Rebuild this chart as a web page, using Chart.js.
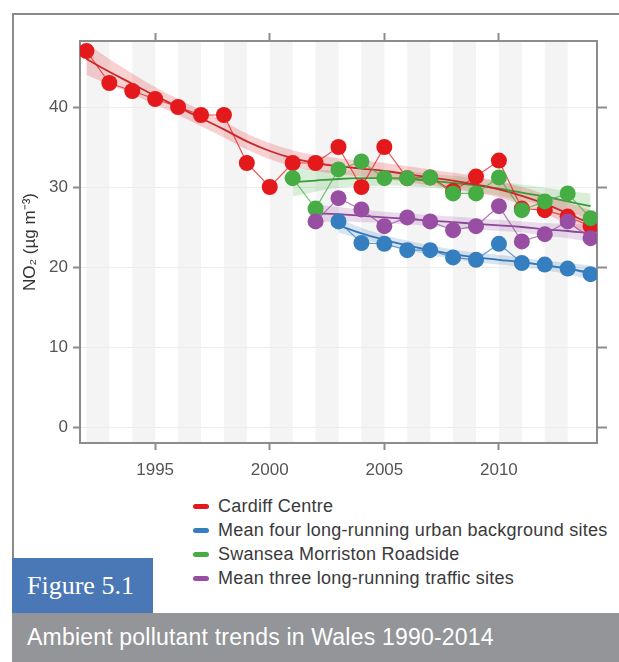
<!DOCTYPE html>
<html>
<head>
<meta charset="utf-8">
<script src="https://cdn.jsdelivr.net/npm/chart.js@4.4.1/dist/chart.umd.min.js"></script>
<style>
  body { margin: 0; background: #fff; font-family: "Liberation Sans", Arial, sans-serif; }
  #page { position: relative; width: 619px; height: 662px; overflow: hidden; }
  #frame { position: absolute; left: 12px; top: 13px; width: 620px; height: 560px;
           border-left: 2px solid #8a8a8a; border-top: 2px solid #8a8a8a; }
  #chartBox { position: absolute; left: 0; top: 0; width: 619px; height: 490px; }
  #legend { position: absolute; left: 193px; top: 494px; font-size: 18px; color: #3a3a3a; letter-spacing: 0.25px; }
  #legend div { height: 24px; line-height: 24px; white-space: nowrap; }
  #legend span { display: inline-block; width: 16px; height: 5px; border-radius: 3px;
                 margin-right: 9px; vertical-align: middle; position: relative; top: -1px; }
  #fig { position: absolute; left: 12px; top: 558px; width: 141px; height: 55px; background: #4a77b5;
         color: #fff; font-family: "Liberation Serif", "DejaVu Serif", serif; font-size: 26px;
         line-height: 55px; padding-left: 15px; box-sizing: border-box; }
  #cap { position: absolute; left: 12px; top: 613px; width: 607px; height: 49px; background: #939598;
         color: #fff; font-size: 23px; line-height: 49px; padding-left: 15px; box-sizing: border-box;
         letter-spacing: 0.2px; }
</style>
</head>
<body>
<div id="page">
  <div id="frame"></div>
  <div id="chartBox"><canvas id="myChart"></canvas></div>
  <div id="legend"></div>
  <div id="fig">Figure 5.1</div>
  <div id="cap">Ambient pollutant trends in Wales 1990-2014</div>
</div>
<script>
var years = [1992, 1993, 1994, 1995, 1996, 1997, 1998, 1999, 2000, 2001, 2002, 2003,
             2004, 2005, 2006, 2007, 2008, 2009, 2010, 2011, 2012, 2013, 2014];
var xTicks = [1995, 2000, 2005, 2010];
var yTicks = [0, 10, 20, 30, 40];

var names = ['Cardiff Centre', 'Mean four long-running urban background sites',
             'Swansea Morriston Roadside', 'Mean three long-running traffic sites'];
var colors = ['#e3191c', '#357ec0', '#46ad44', '#984ea3'];

// measured annual means
var cardiff = [47, 43, 42, 41, 40, 39, 39, 33, 30, 33, 33, 35, 30, 35, 31.1, 31.2, 29.5, 31.3, 33.3, 27.3, 27.1, 26.3, 25.1];
var urban = [null, null, null, null, null, null, null, null, null, null, null,
             25.7, 23.0, 22.9, 22.1, 22.1, 21.2, 20.9, 22.9, 20.5, 20.3, 19.8, 19.1];
var swansea = [null, null, null, null, null, null, null, null, null,
               31.1, 27.3, 32.2, 33.2, 31.1, 31.1, 31.2, 29.2, 29.2, 31.2, 27.1, 28.2, 29.2, 26.1];
var traffic = [null, null, null, null, null, null, null, null, null, null,
               25.7, 28.6, 27.2, 25.1, 26.2, 25.7, 24.6, 25.1, 27.6, 23.2, 24.1, 25.7, 23.6];

// smooth trends with confidence band
var trendCardiff = [46.0, 44.4, 42.9, 41.4, 40.0, 38.6, 37.2, 35.7, 34.5, 33.6, 33.0, 32.6, 32.3, 32.0, 31.6, 31.2, 30.8, 30.3, 29.7, 28.9, 27.9, 26.7, 25.4];
var loCardiff = [44.0, 42.8, 41.6, 40.3, 39.0, 37.6, 36.2, 34.7, 33.5, 32.6, 32.0, 31.6, 31.3, 31.0, 30.6, 30.2, 29.8, 29.3, 28.7, 27.8, 26.7, 25.3, 23.7];
var hiCardiff = [48.0, 46.0, 44.2, 42.5, 41.0, 39.6, 38.2, 36.7, 35.5, 34.6, 34.0, 33.6, 33.3, 33.0, 32.6, 32.2, 31.8, 31.3, 30.7, 30.0, 29.1, 28.1, 27.1];

var trendUrban = [null, null, null, null, null, null, null, null, null, null, null,
                  25.2, 24.2, 23.4, 22.7, 22.1, 21.6, 21.2, 20.9, 20.6, 20.2, 19.8, 19.3];
var loUrban = [null, null, null, null, null, null, null, null, null, null, null,
               24.3, 23.5, 22.8, 22.1, 21.5, 21.0, 20.6, 20.3, 20.0, 19.6, 19.1, 18.4];
var hiUrban = [null, null, null, null, null, null, null, null, null, null, null,
               26.1, 24.9, 24.0, 23.3, 22.7, 22.2, 21.8, 21.5, 21.2, 20.8, 20.5, 20.2];

var trendSwansea = [null, null, null, null, null, null, null, null, null,
                    30.6, 30.8, 31.0, 31.1, 31.1, 31.0, 30.8, 30.5, 30.2, 29.8, 29.3, 28.8, 28.2, 27.6];
var loSwansea = [null, null, null, null, null, null, null, null, null,
                 28.8, 29.4, 29.9, 30.1, 30.2, 30.1, 29.9, 29.6, 29.3, 28.9, 28.3, 27.7, 26.9, 26.0];
var hiSwansea = [null, null, null, null, null, null, null, null, null,
                 32.4, 32.2, 32.1, 32.1, 32.0, 31.9, 31.7, 31.4, 31.1, 30.7, 30.3, 29.9, 29.5, 29.2];

var trendTraffic = [null, null, null, null, null, null, null, null, null, null,
                    26.7, 26.6, 26.4, 26.2, 26.0, 25.8, 25.6, 25.4, 25.2, 25.0, 24.7, 24.5, 24.2];
var loTraffic = [null, null, null, null, null, null, null, null, null, null,
                 25.6, 25.7, 25.6, 25.5, 25.3, 25.1, 24.9, 24.7, 24.5, 24.3, 23.9, 23.6, 23.1];
var hiTraffic = [null, null, null, null, null, null, null, null, null, null,
                 27.8, 27.5, 27.2, 26.9, 26.7, 26.5, 26.3, 26.1, 25.9, 25.7, 25.5, 25.4, 25.3];

var series = [cardiff, urban, swansea, traffic];
var trends = [trendCardiff, trendUrban, trendSwansea, trendTraffic];
var lows = [loCardiff, loUrban, loSwansea, loTraffic];
var highs = [hiCardiff, hiUrban, hiSwansea, hiTraffic];
var trendColors = ['#c62a2a', '#3476b5', '#3d9a3b', '#8c4898'];

function pts(arr) {
    return years.map((x, i) => ({ x: x, y: arr[i] }));
}
function alpha(hex, a) {
    var n = parseInt(hex.slice(1), 16);
    return 'rgba(' + (n >> 16) + ',' + ((n >> 8) & 255) + ',' + (n & 255) + ',' + a + ')';
}

var datasets = [];
series.forEach((s, k) => {
    datasets.push({ data: pts(lows[k]), borderWidth: 0, pointRadius: 0, fill: false,
                    tension: 0.4, order: 100 });
    datasets.push({ data: pts(highs[k]), borderWidth: 0, pointRadius: 0, fill: '-1',
                    backgroundColor: alpha(colors[k], 0.2), tension: 0.4, order: 100 });
});
series.forEach((s, k) => {
    datasets.push({ data: pts(trends[k]), borderColor: trendColors[k], borderWidth: 1.8,
                    pointRadius: 0, fill: false, tension: 0.4, order: 50 });
});
series.forEach((s, k) => {
    datasets.push({ label: names[k], data: pts(s), borderColor: alpha(colors[k], 0.75),
                    borderWidth: 1.2, pointRadius: 8, pointBorderWidth: 0,
                    pointBackgroundColor: colors[k], fill: false, order: 4 - k });
});

// alternating year stripes behind the data
var stripes = {
    id: 'stripes',
    beforeDraw(chart) {
        var ctx = chart.ctx, a = chart.chartArea, x = chart.scales.x;
        ctx.save();
        ctx.beginPath();
        ctx.rect(a.left, a.top, a.right - a.left, a.bottom - a.top);
        ctx.clip();
        ctx.fillStyle = '#f4f4f4';
        for (var yr = 1992; yr <= 2012; yr += 2) {
            var x0 = x.getPixelForValue(yr), x1 = x.getPixelForValue(yr + 1);
            ctx.fillRect(x0, a.top, x1 - x0, a.bottom - a.top);
        }
        ctx.restore();
    }
};

var axisGray = '#8c8c8c';
var xMin = 1991.72, xMax = 2014.28, yMin = -2, yMax = 48.25;

var ctx = document.getElementById('myChart');
var myChart = new Chart(ctx, {
    type: 'line',
    data: { datasets: datasets },
    plugins: [stripes],
    options: {
        responsive: true,
        maintainAspectRatio: false,
        animation: false,
        layout: { padding: 0 },
        plugins: { legend: { display: false }, tooltip: { enabled: false } },
        scales: {
            x: {
                type: 'linear', position: 'bottom', min: xMin, max: xMax,
                afterBuildTicks: s => { s.ticks = xTicks.map(v => ({ value: v })); },
                afterFit: s => { s.height = 47; },
                ticks: { callback: v => String(v), color: '#555', font: { size: 17 }, padding: 10, maxRotation: 0 },
                grid: { drawOnChartArea: false, tickLength: 7, tickColor: axisGray, tickWidth: 2 },
                border: { color: axisGray, width: 2 }
            },
            x2: {
                type: 'linear', position: 'top', min: xMin, max: xMax,
                afterBuildTicks: s => { s.ticks = xTicks.map(v => ({ value: v })); },
                afterFit: s => { s.height = 41; },
                ticks: { display: false },
                grid: { drawOnChartArea: false, tickLength: 8, tickColor: axisGray, tickWidth: 2 },
                border: { color: axisGray, width: 2 }
            },
            y: {
                type: 'linear', position: 'left', min: yMin, max: yMax,
                afterBuildTicks: s => { s.ticks = yTicks.map(v => ({ value: v })); },
                afterFit: s => { s.width = 80; },
                ticks: { color: '#555', font: { size: 17 }, padding: 5 },
                grid: { color: '#ededed', lineWidth: 1, tickLength: 7, tickColor: axisGray, tickWidth: 2 },
                border: { color: axisGray, width: 2 },
                title: { display: true, text: 'NO\u2082 (\u00b5g m\u207b\u00b3)', color: '#333',
                         font: { size: 17 }, padding: { top: 20, bottom: 0 } }
            },
            y2: {
                type: 'linear', position: 'right', min: yMin, max: yMax,
                afterBuildTicks: s => { s.ticks = yTicks.map(v => ({ value: v })); },
                afterFit: s => { s.width = 22; },
                ticks: { display: false },
                grid: { drawOnChartArea: false, tickLength: 10, tickColor: axisGray, tickWidth: 2 },
                border: { color: axisGray, width: 2 }
            }
        }
    }
});

// legend column under the plot
var legend = document.getElementById('legend');
names.forEach((n, k) => {
    var row = document.createElement('div');
    row.innerHTML = '<span style="background:' + colors[k] + '"></span>' + n;
    legend.appendChild(row);
});
</script>
</body>
</html>
